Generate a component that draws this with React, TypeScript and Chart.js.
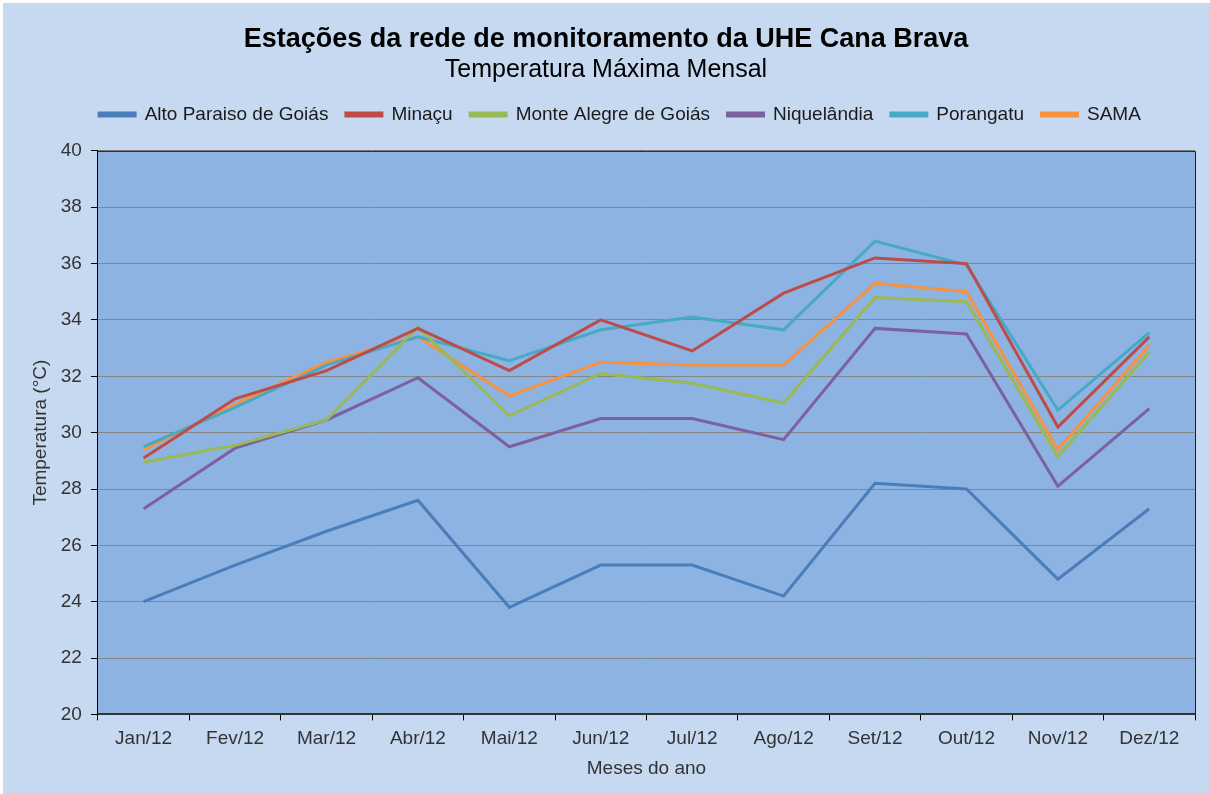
import React, { useEffect, useRef } from "react";
import { Chart, registerables } from "chart.js";

Chart.register(...registerables);

const months = ["Jan/12", "Fev/12", "Mar/12", "Abr/12", "Mai/12", "Jun/12", "Jul/12", "Ago/12", "Set/12", "Out/12", "Nov/12", "Dez/12"];

const altoParaiso = [24.0, 25.3, 26.5, 27.6, 23.8, 25.3, 25.3, 24.2, 28.2, 28.0, 24.8, 27.3];
const minacu = [29.1, 31.2, 32.2, 33.7, 32.2, 34.0, 32.9, 34.95, 36.2, 36.0, 30.2, 33.4];
const monteAlegre = [28.95, 29.55, 30.45, 33.75, 30.6, 32.1, 31.75, 31.05, 34.8, 34.65, 29.15, 32.85];
const niquelandia = [27.3, 29.45, 30.45, 31.95, 29.5, 30.5, 30.5, 29.75, 33.7, 33.5, 28.1, 30.85];
const porangatu = [29.5, 30.9, 32.4, 33.4, 32.55, 33.65, 34.1, 33.65, 36.8, 35.95, 30.8, 33.55];
const sama = [29.4, 31.0, 32.5, 33.4, 31.3, 32.5, 32.4, 32.4, 35.3, 35.0, 29.4, 33.1];

const seriesNames = ["Alto Paraiso de Goiás", "Minaçu", "Monte Alegre de Goiás", "Niquelândia", "Porangatu", "SAMA"];
const seriesValues = [altoParaiso, minacu, monteAlegre, niquelandia, porangatu, sama];
const seriesColors = ["#4A7EBB", "#BE4B48", "#98B954", "#7D60A0", "#46AAC5", "#F69240"];

const yMin = 20;
const yMax = 40;
const yStep = 2;

const FONT = "'Liberation Sans', Arial, sans-serif";

const bgPlugin = {
  id: "bgPlugin",
  beforeLayout(chart: any) {
    const legend = chart.legend;
    if (legend && !legend.__patched) {
      const origFit = legend.fit.bind(legend);
      legend.fit = function () {
        origFit();
        this.height += 17;
      };
      const origDraw = legend.draw.bind(legend);
      legend.draw = function () {
        const ctx = chart.ctx;
        ctx.save();
        ctx.translate(14, 0);
        origDraw();
        ctx.restore();
      };
      legend.__patched = true;
    }
  },
  beforeDraw(chart: any) {
    const { ctx, width, height, chartArea } = chart;
    ctx.save();
    ctx.fillStyle = "#ffffff";
    ctx.fillRect(0, 0, width, height);
    ctx.fillStyle = "#C6D9F1";
    ctx.fillRect(3, 3, width - 3, height - 3);
    ctx.fillStyle = "#8DB3E2";
    ctx.fillRect(chartArea.left, chartArea.top, chartArea.right - chartArea.left, chartArea.bottom - chartArea.top);
    ctx.restore();
  },
  afterDraw(chart: any) {
    const { ctx, chartArea } = chart;
    ctx.save();
    ctx.strokeStyle = "#1f1f1f";
    ctx.lineWidth = 1;
    ctx.beginPath();
    ctx.moveTo(chartArea.left, chartArea.top + 0.5);
    ctx.lineTo(chartArea.right + 0.5, chartArea.top + 0.5);
    ctx.lineTo(chartArea.right + 0.5, chartArea.bottom);
    ctx.stroke();
    ctx.restore();
  },
};

export default function App() {
  const canvasRef = useRef<HTMLCanvasElement | null>(null);

  useEffect(() => {
    document.body.style.margin = "0";
    const canvas = canvasRef.current;
    if (!canvas) return;
    const chart = new Chart(canvas, {
      type: "line",
      data: {
        labels: months,
        datasets: seriesNames.map((name, i) => ({
          label: name,
          data: seriesValues[i],
          borderColor: seriesColors[i],
          backgroundColor: seriesColors[i],
          borderWidth: 3,
          pointRadius: 0,
          pointHoverRadius: 0,
          tension: 0,
          fill: false,
        })),
      },
      options: {
        animation: false,
        responsive: false,
        devicePixelRatio: 1,
        layout: { padding: { left: 17, right: 15, top: 0, bottom: 10 } },
        plugins: {
          title: {
            display: true,
            text: "Estações da rede de monitoramento da UHE Cana Brava",
            color: "#000000",
            font: { family: FONT, size: 27, weight: "bold" },
            padding: { top: 23, bottom: 0 },
          },
          subtitle: {
            display: true,
            text: "Temperatura Máxima Mensal",
            color: "#000000",
            font: { family: FONT, size: 25, weight: "normal" },
            padding: { top: 0, bottom: 2 },
          },
          legend: {
            display: true,
            position: "top",
            labels: {
              boxWidth: 36,
              boxHeight: 3,
              padding: 17.5,
              color: "#1a1a1a",
              font: { family: FONT, size: 19 },
            },
          },
          tooltip: { enabled: false },
        },
        scales: {
          x: {
            offset: true,
            grid: {
              display: true,
              offset: true,
              drawOnChartArea: false,
              drawTicks: true,
              tickLength: 6,
              tickColor: "#000000",
            },
            border: { display: true, color: "#333333", width: 2 },
            ticks: {
              color: "#333333",
              padding: 7,
              maxRotation: 0,
              autoSkip: false,
              font: { family: FONT, size: 19 },
            },
            title: {
              display: true,
              text: "Meses do ano",
              color: "#333333",
              font: { family: FONT, size: 19 },
              padding: { top: 0, bottom: 4 },
            },
          },
          y: {
            min: yMin,
            max: yMax,
            grid: {
              display: true,
              color: "#868686",
              lineWidth: 1,
              drawTicks: true,
              tickLength: 7,
              tickColor: "#000000",
            },
            border: { display: true, color: "#000000", width: 1 },
            ticks: {
              stepSize: yStep,
              color: "#333333",
              padding: 9,
              font: { family: FONT, size: 19 },
            },
            title: {
              display: true,
              text: "Temperatura (°C)",
              color: "#333333",
              font: { family: FONT, size: 19 },
              padding: { top: 12, bottom: 0 },
            },
          },
        },
      },
      plugins: [bgPlugin],
    });
    return () => chart.destroy();
  }, []);

  return (
    <div style={{ width: 1210, height: 794 }}>
      <canvas ref={canvasRef} width={1210} height={794} style={{ display: "block", width: 1210, height: 794 }} />
    </div>
  );
}
